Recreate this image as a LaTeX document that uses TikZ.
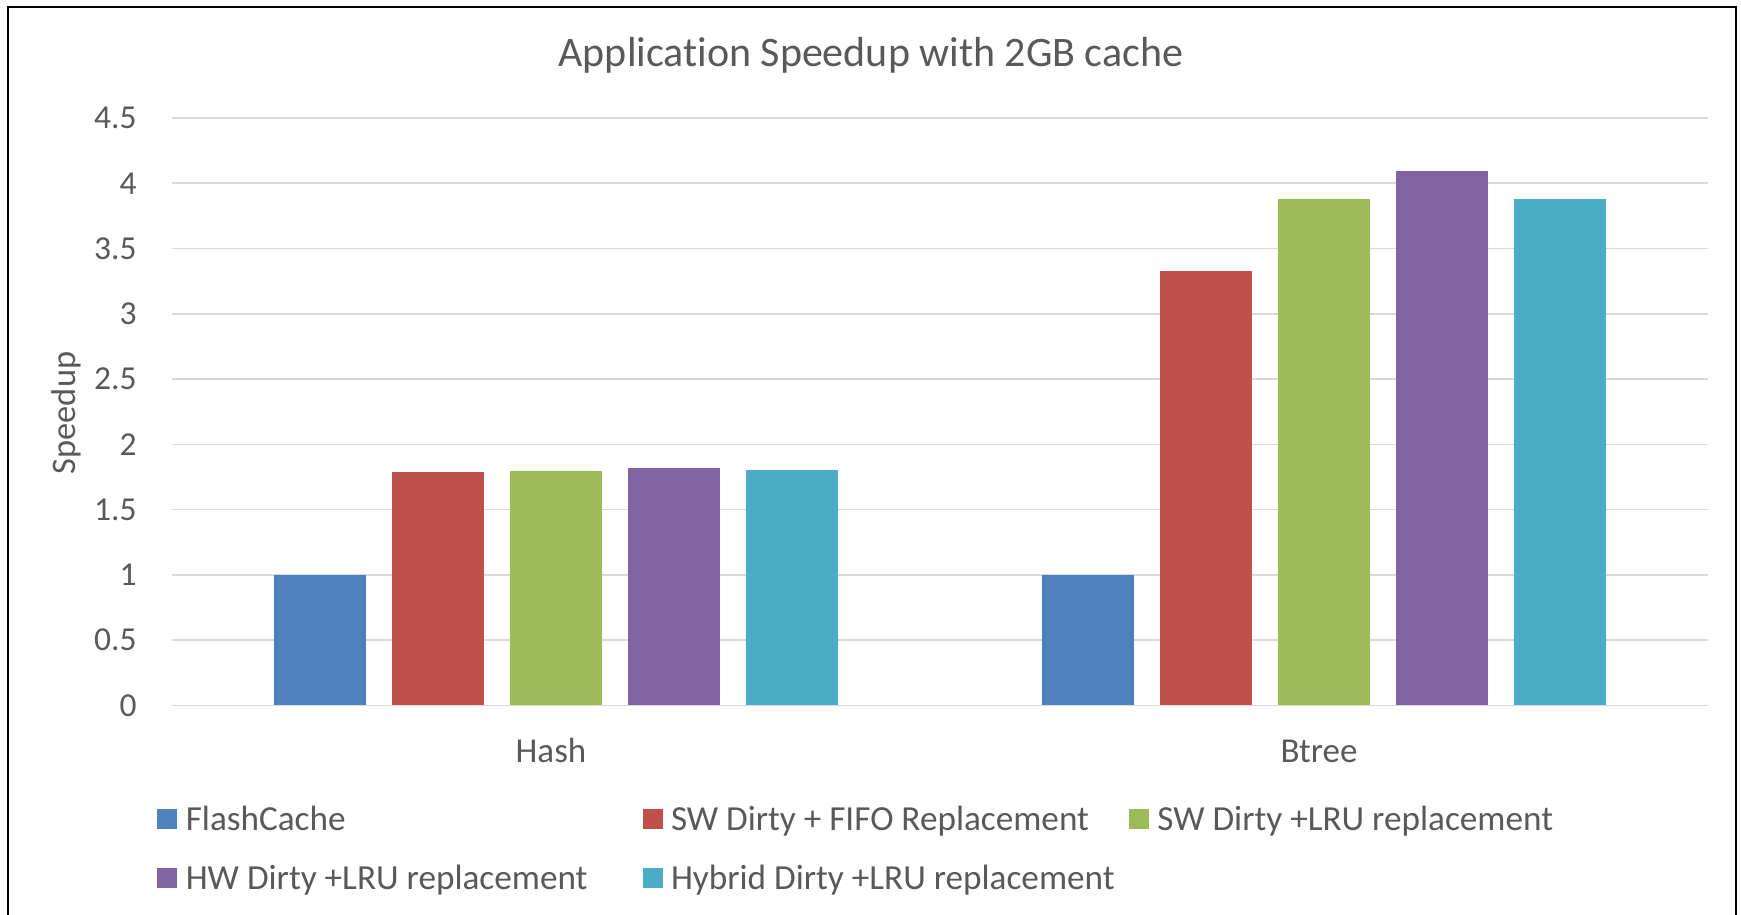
\documentclass[tikz,border=0pt]{standalone}
\usepackage{fontspec}
\setmainfont{Carlito}[Ligatures={NoCommon}]
\definecolor{txt}{HTML}{595959}
\definecolor{gridc}{HTML}{D9D9D9}
\definecolor{sA}{HTML}{4F81BD}
\definecolor{sB}{HTML}{C0504D}
\definecolor{sC}{HTML}{9BBB59}
\definecolor{sD}{HTML}{8064A2}
\definecolor{sE}{HTML}{4BACC6}
\tikzset{
  gridline/.style={draw=gridc, line width=0.8pt},
  ticklab/.style={text=txt, inner sep=0pt, anchor=east, font=\fontsize{16.75}{20}\selectfont},
  catlab/.style={text=txt, inner sep=0pt, anchor=base, font=\fontsize{17.5}{21}\selectfont},
  leglab/.style={text=txt, inner sep=0pt, anchor=base west, font=\fontsize{17.6}{21}\selectfont},
  legkey/.style={minimum size=10pt, inner sep=0pt, draw=none},
  titlelab/.style={text=txt, inner sep=0pt, anchor=base, font=\fontsize{21}{25}\selectfont},
}
\begin{document}
\begin{tikzpicture}[x=0.5pt, y=-0.5pt]
\useasboundingbox (0,0) rectangle (1741,915);
\fill[white] (0,0) rectangle (1741,915);
% chart frame
\draw[line width=1.3pt] (8,915) -- (8,7) -- (1736,7) -- (1736,915);

% title
\node[titlelab] (title) at (871,67) {Application Speedup with 2GB cache};

% gridlines and value labels
\foreach \v/\lab in {0/0, 1/0.5, 2/1, 3/1.5, 4/2, 5/2.5, 6/3, 7/3.5, 8/4, 9/4.5} {
  \draw[gridline] (172,{705.3-65.25*\v}) -- (1708,{705.3-65.25*\v});
  \node[ticklab] (tick\v) at (137,{705.3-65.25*\v}) {\lab};
}

% axis title
\node[text=txt, inner sep=0pt, rotate=90, anchor=base, font=\fontsize{17.2}{21}\selectfont] (ylab) at (75,413) {Speedup};

% bars: Hash
\foreach \i/\val/\col in {0/1.0/sA, 1/1.79/sB, 2/1.795/sC, 3/1.815/sD, 4/1.80/sE} {
  \fill[\col] ({320+118*\i-46.25},705.3) rectangle ({320+118*\i+46.25},{705.3-130.5*\val});
}
% bars: Btree
\foreach \i/\val/\col in {0/1.0/sA, 1/3.326/sB, 2/3.877/sC, 3/4.094/sD, 4/3.877/sE} {
  \fill[\col] ({1088+118*\i-46.25},705.3) rectangle ({1088+118*\i+46.25},{705.3-130.5*\val});
}

% category labels
\node[catlab] (catA) at (551,762) {Hash};
\node[catlab] (catB) at (1319,762) {Btree};

% legend
\node[legkey, fill=sA] (kA) at (166.5,819.4) {};
\node[leglab] (lA) at (185.4,830) {FlashCache};
\node[legkey, fill=sB] (kB) at (652.9,819.4) {};
\node[leglab] (lB) at (670.6,830) {SW Dirty + FIFO Replacement};
\node[legkey, fill=sC] (kC) at (1139.2,819.4) {};
\node[leglab] (lC) at (1157,830) {SW Dirty +LRU replacement};
\node[legkey, fill=sD] (kD) at (166.5,878.3) {};
\node[leglab] (lD) at (185.4,889) {HW Dirty +LRU replacement};
\node[legkey, fill=sE] (kE) at (652.9,878.3) {};
\node[leglab] (lE) at (670.6,889) {Hybrid Dirty +LRU replacement};
\end{tikzpicture}
\end{document}
